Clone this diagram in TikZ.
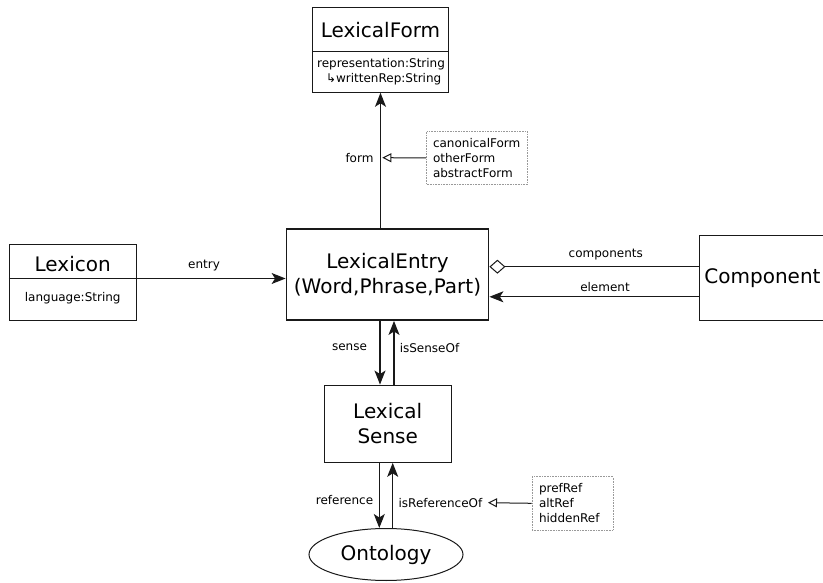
\documentclass[tikz,border=0pt]{standalone}
\usepackage{fontspec}
\setmainfont{DejaVu Sans}
\usepackage{tikz}
\usetikzlibrary{shapes.geometric, arrows.meta, positioning, calc}
\definecolor{InkGrey}{RGB}{25, 25, 25}

\begin{document}
\begin{tikzpicture}[
                    x=1pt, y=-1pt,
                    classbox/.style={rectangle, draw=InkGrey, line width=1pt, inner sep=0pt},
                    bigtxt/.style={font=\fontsize{20}{25}\selectfont, align=center},
                    smalltxt/.style={font=\fontsize{12}{15}\selectfont, align=left, inner sep=0pt},
                    notebox/.style={rectangle, draw=gray!80, densely dotted, line width=0.6pt, font=\fontsize{12}{15}\selectfont, align=left, inner xsep=6.5pt, inner ysep=0pt},
                    arr/.style={-{Stealth[length=14pt, width=11pt, inset=3.5pt]}, draw=InkGrey, line width=1.1pt},
                    hollow/.style={-{Triangle[open, length=9pt, width=9pt]}, draw=InkGrey, line width=1pt},
                    agg/.style={{Diamond[open, length=16pt, width=14pt]}-, draw=InkGrey, line width=1pt}
                ]
                    \useasboundingbox (0,0) rectangle (823,583);

                    % class boxes
                    \node[classbox, minimum width=135.5pt, minimum height=85pt] (formbox) at (380.5,49.8) {};
                    \node[bigtxt] (formname) at (380.5,30) {LexicalForm};
                    \node[smalltxt] (formattr) at (381,71.3) {representation:String\\\hspace*{9pt}↳writtenRep:String};
                    \coordinate (formdiv) at (0,51.7);
                    \draw[InkGrey, line width=1pt] (formbox.west |- formdiv) -- (formbox.east |- formdiv);

                    \node[classbox, minimum width=126.7pt, minimum height=75.7pt] (lexicon) at (72.7,282.2) {};
                    \node[bigtxt] (lexname) at (72.7,264) {Lexicon};
                    \node[smalltxt] (lexattr) at (72.7,297.7) {language:String};
                    \coordinate (lexdiv) at (0,278.5);
                    \draw[InkGrey, line width=1pt] (lexicon.west |- lexdiv) -- (lexicon.east |- lexdiv);

                    \node[classbox, bigtxt, line width=1.8pt, minimum width=202pt, minimum height=90.7pt] (entry) at (387.5,274.7) {LexicalEntry\\(Word,Phrase,Part)};
                    \node[classbox, bigtxt, minimum width=127pt, minimum height=84pt] (comp) at (762.5,278) {Component};
                    \node[classbox, bigtxt, minimum width=126.7pt, minimum height=77.3pt] (sense) at (387.7,423.7) {Lexical\\Sense};
                    \node[ellipse, draw=InkGrey, line width=1pt, bigtxt, inner sep=0pt, minimum width=154pt, minimum height=52pt] (onto) at (386,554.5) {Ontology};

                    % notes
                    \node[notebox, text width=88pt, minimum height=52.3pt] (formkinds) at (477,157.9) {canonicalForm\\otherForm\\abstractForm};
                    \node[notebox, text width=67pt, inner xsep=7pt, minimum height=53.3pt] (refkinds) at (572.5,503.3) {prefRef\\altRef\\hiddenRef};
                    \coordinate (formhit) at (382.3,157.7);
                    \coordinate (refhit) at (488,502.7);
                    \coordinate (complvl) at (0,266.7);
                    \coordinate (elemlvl) at (0,296.8);

                    % connectors
                    \draw[arr] (formbox.south |- entry.north) -- (formbox.south);
                    \draw[hollow] (formkinds.west) -- (formhit);
                    \draw[arr] (lexicon.east |- lexdiv) -- (entry.west |- lexdiv);
                    \draw[agg] (entry.east |- complvl) -- (comp.west |- complvl);
                    \draw[arr] (comp.west |- elemlvl) -- (entry.east |- elemlvl);
                    \draw[arr] ([xshift=-7.5pt]entry.south) -- ([xshift=-7.7pt]sense.north);
                    \draw[arr] ([xshift=6.3pt]sense.north) -- ([xshift=6.5pt]entry.south);
                    \draw[arr] ([xshift=-8.4pt]sense.south) -- ([xshift=-6.7pt]onto.north);
                    \draw[arr] ([xshift=6.7pt]onto.north) -- ([xshift=5pt]sense.south);
                    \draw[hollow] (refkinds.west) -- (refhit);

                    % labels
                    \node[smalltxt] (formlbl) at (359.5,157.7) {form};
                    \node[smalltxt] (entrylbl) at (204,265.7) {entry};
                    \node[smalltxt] (complbl) at (605.8,254.3) {components};
                    \node[smalltxt] (elemlbl) at (605,286.7) {element};
                    \node[smalltxt] (senselbl) at (349.5,347.7) {sense};
                    \node[smalltxt] (senseoflbl) at (429.5,348) {isSenseOf};
                    \node[smalltxt] (reflbl) at (344.5,500) {reference};
                    \node[smalltxt] (refoflbl) at (440.5,502.7) {isReferenceOf};
                \end{tikzpicture}
\end{document}
